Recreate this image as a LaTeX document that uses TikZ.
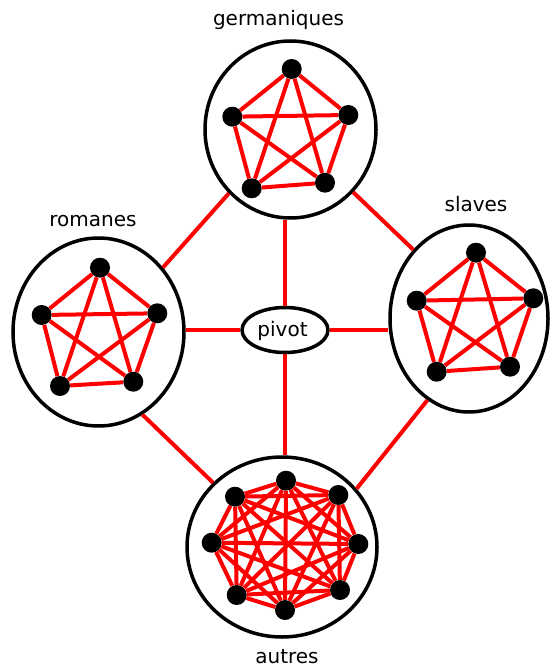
\documentclass[tikz,border=0pt]{standalone}
\usepackage{fontspec}
\setmainfont{DejaVu Sans}
\usetikzlibrary{shapes.geometric}
\tikzset{
  group/.style={ellipse, draw=black, fill=white, line width=3.5pt, inner sep=0pt},
  dot/.style={circle, fill=black, inner sep=0pt, minimum size=20pt},
  redline/.style={draw=red, line width=4pt},
  lbl/.style={font=\fontsize{20}{24}\selectfont, anchor=base, inner sep=0pt},
}
\begin{document}
\begin{tikzpicture}[x=1pt,y=-1pt]
\useasboundingbox (0,0) rectangle (549,668);
% group circles
\node[group, minimum width=171, minimum height=177] (G) at (290.5,129.5) {};
\node[group, minimum width=171, minimum height=188] (R) at (98.5,332) {};
\node[group, minimum width=158, minimum height=187] (S) at (469,318.5) {};
\node[group, minimum width=190, minimum height=180] (A) at (282,547) {};
\node[ellipse, draw=black, line width=3.5pt, minimum width=86, minimum height=45, inner sep=0pt] (P) at (285,330) {};
% connectors
\draw[redline] (G.-134) -- (R.45);
\draw[redline] (G.-45) -- (S.129);
\draw[redline] (R.-62) -- (A.137);
\draw[redline] (S.-117) -- (A.38);
\draw[redline] (G.south -| P.north) -- (P.north);
\draw[redline] (P.south) -- (A.north -| P.south);
\draw[redline] (R.east |- P.west) -- (P.west);
\draw[redline] (P.east) -- (S.west |- P.east);
% pivot text
\node[lbl] (pt) at (282.5,336.7) {pivot};
% dots
\node[dot] (g1) at (291.7,69) {};
\node[dot] (g2) at (348.3,115) {};
\node[dot] (g3) at (325,182.7) {};
\node[dot] (g4) at (251.7,188.3) {};
\node[dot] (g5) at (232.3,116.7) {};
\node[dot] (r1) at (100,267.7) {};
\node[dot] (r2) at (157.3,313.3) {};
\node[dot] (r3) at (133.3,381.7) {};
\node[dot] (r4) at (60,386) {};
\node[dot] (r5) at (41.7,315) {};
\node[dot] (s1) at (476,252.7) {};
\node[dot] (s2) at (533.3,298.3) {};
\node[dot] (s3) at (510,366.7) {};
\node[dot] (s4) at (436.7,371.7) {};
\node[dot] (s5) at (416.7,300.7) {};
\node[dot] (a1) at (286,480.7) {};
\node[dot] (a2) at (338.3,495) {};
\node[dot] (a3) at (358.3,544) {};
\node[dot] (a4) at (340,590) {};
\node[dot] (a5) at (285,610) {};
\node[dot] (a6) at (236.7,595) {};
\node[dot] (a7) at (211.7,542.7) {};
\node[dot] (a8) at (235,496.7) {};
% complete graphs
\foreach \p in {g,r,s}{
  \foreach \i in {1,...,4}{
    \pgfmathtruncatemacro{\j}{\i+1}
    \foreach \k in {\j,...,5}{
      \draw[redline] (\p\i) -- (\p\k);
    }
  }
}
\foreach \i in {1,...,7}{
  \pgfmathtruncatemacro{\j}{\i+1}
  \foreach \k in {\j,...,8}{
    \draw[redline] (a\i) -- (a\k);
  }
}
% labels
\node[lbl] (lg) at (278.5,26) {germaniques};
\node[lbl] (lr) at (93,226.7) {romanes};
\node[lbl] (ls) at (476,211.7) {slaves};
\node[lbl] (la) at (287,663) {autres};
\end{tikzpicture}
\end{document}
